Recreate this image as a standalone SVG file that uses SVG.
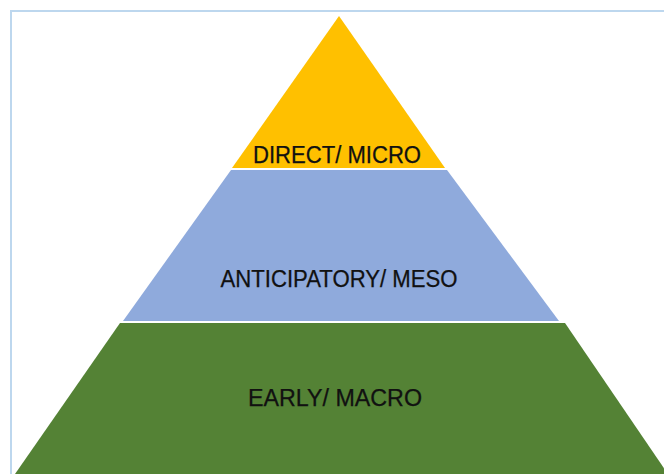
<svg xmlns="http://www.w3.org/2000/svg" width="664" height="474" viewBox="0 0 664 474">
  <style>
    .frame { fill: none; stroke: #BDD7EE; stroke-width: 2; }
    .tier { stroke: none; }
    .label { font-family: "Liberation Sans", Arial, sans-serif; font-size: 23px; fill: #111; text-anchor: middle; stroke: #111; stroke-width: 0.25; }
  </style>
  <rect width="664" height="474" fill="#ffffff"/>
  <!-- frame edges (top and left) -->
  <path class="frame" d="M11,474 V11 H664"/>

  <g id="tier-direct">
    <polygon class="tier" fill="#FFC000" points="339,16 445,168 232,168"/>
    <text class="label" x="337" y="163" textLength="168" lengthAdjust="spacingAndGlyphs">DIRECT/ MICRO</text>
  </g>

  <g id="tier-anticipatory">
    <polygon class="tier" fill="#8FAADC" points="231,170 447,170 559,321 123,321"/>
    <text class="label" x="339" y="287" textLength="237" lengthAdjust="spacingAndGlyphs">ANTICIPATORY/ MESO</text>
  </g>

  <g id="tier-early">
    <polygon class="tier" fill="#548235" points="120,323 565,323 668,474 15,474"/>
    <text class="label" x="335" y="406" textLength="174" lengthAdjust="spacingAndGlyphs">EARLY/ MACRO</text>
  </g>

  <g id="connectors"></g>
</svg>
